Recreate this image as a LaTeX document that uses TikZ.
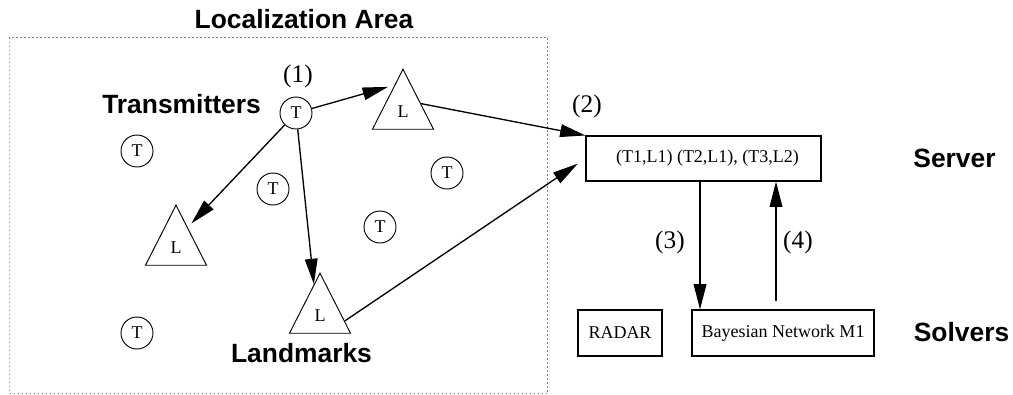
\documentclass[tikz,border=0pt]{standalone}
\usepackage{fontspec}
\setmainfont{Liberation Serif}
\newfontfamily\hv{Liberation Sans}
\usetikzlibrary{shapes.geometric,arrows.meta,calc}
\begin{document}
\begin{tikzpicture}[x=0.75pt,y=-0.75pt,
  tnode/.style={circle,draw,line width=0.7pt,minimum size=24pt,inner sep=0pt,font=\fontsize{13.5pt}{15pt}\selectfont},
  lnode/.style={isosceles triangle,isosceles triangle stretches,shape border rotate=90,draw,line width=0.7pt,
    minimum width=45.75pt,minimum height=45pt,inner sep=0pt,anchor=apex,font=\fontsize{13.5pt}{15pt}\selectfont},
  boxnode/.style={rectangle,draw,line width=0.8pt,inner sep=0pt,font=\fontsize{13.5pt}{15pt}\selectfont},
  bigsans/.style={font=\hv\bfseries\fontsize{19.8pt}{22pt}\selectfont,inner sep=0pt},
  step label/.style={font=\fontsize{19pt}{21pt}\selectfont,inner sep=0pt},
  arr/.style={line width=1pt,-{Triangle[length=19pt,width=9.5pt]}},
  area/.style={draw=gray,line width=1pt,dash pattern=on 1pt off 2pt}
]
\useasboundingbox (0,0) rectangle (1013,394);
\node[area,rectangle,minimum width=403.5pt,minimum height=267pt,anchor=north west,inner sep=0pt] (A) at (9,37) {};
\node[bigsans,anchor=base] (title) at (304,28) {Localization Area};
\node[bigsans,anchor=base] (tx) at (181.5,113) {Transmitters};
\node[bigsans,anchor=base] (lm) at (301.5,362) {Landmarks};
\node[bigsans,anchor=base] (srv) at (954.5,167) {Server};
\node[bigsans,anchor=base] (sol) at (961.5,341) {Solvers};

\node[tnode] (T1) at (296,113) {T};
\node[tnode] (T2) at (137,151) {T};
\node[tnode] (T3) at (273,189) {T};
\node[tnode] (T4) at (447,173) {T};
\node[tnode] (T5) at (380,227) {T};
\node[tnode] (T6) at (137,333) {T};

\node[lnode] (L1) at (403,68) {L};
\node[lnode] (L2) at (176,204) {L};
\node[lnode] (L3) at (320,272) {L};

\node[boxnode,minimum width=176.25pt,minimum height=33.75pt] (S) at (703.5,158.5) {\hspace{6pt}(T1,L1) (T2,L1), (T3,L2)};
\node[boxnode,minimum width=63pt,minimum height=34.5pt] (R) at (620,333) {RADAR};
\node[boxnode,minimum width=136.5pt,minimum height=34.5pt] (BN) at (783,333) {Bayesian Network M1};

\node[step label] (n1) at (298,76) {(1)};
\node[step label] (n2) at (587,106) {(2)};
\node[step label] (n3) at (670,242) {(3)};
\node[step label] (n4) at (798,242) {(4)};

\draw[arr,shorten >=5pt] (T1) -- (L1.108);
\draw[arr,shorten >=4pt] (T1) -- (L2.60);
\draw[arr] (T1) -- (L3.101);
\draw[arr] (L1.24) -- (S.north west);
\draw[arr,shorten >=7pt] (L3.-12) -- (S.west);
\draw[arr] ([xshift=-2.6pt]S.south) -- ([xshift=-2.6pt]S.south |- BN.north);
\draw[arr] ([xshift=-5.25pt,yshift=6pt]BN.north) -- ([xshift=-5.25pt]BN.north |- S.south);
\end{tikzpicture}
\end{document}
